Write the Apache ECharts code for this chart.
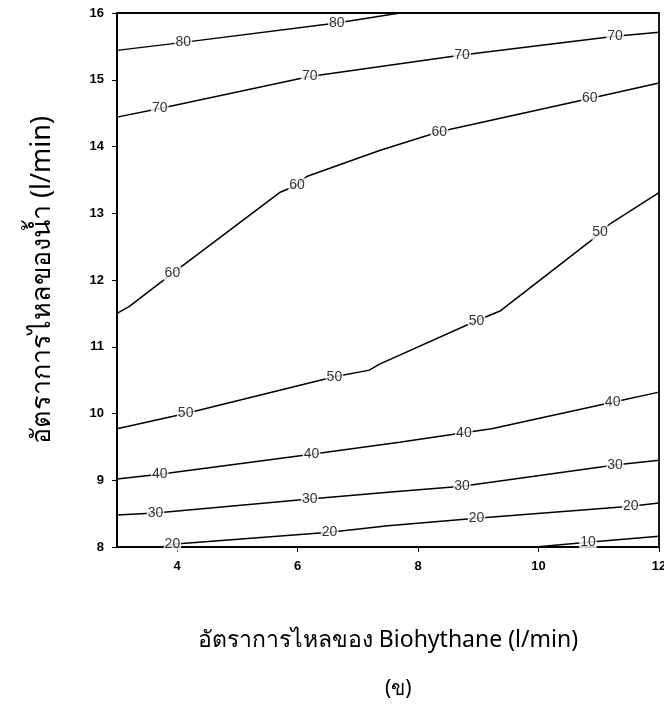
<!DOCTYPE html>
<html>
<head>
<meta charset="utf-8">
<script src="https://cdn.jsdelivr.net/npm/echarts@6/dist/echarts.min.js"></script>
<style>
  html, body { margin: 0; padding: 0; background: #fff; }
  #main { width: 664px; height: 712px; }
</style>
</head>
<body>
<div id="main"></div>
<script>
// contour lines, [biohythane flow, water flow]
const c80 = [[3, 15.44], [4.1, 15.56], [6.65, 15.85], [7.7, 16]];
const c70 = [[3, 14.44], [3.71, 14.57], [6.2, 15.05], [8.73, 15.37], [11.27, 15.65], [12, 15.71]];
const c60 = [[3, 11.5], [3.2, 11.6], [3.92, 12.1], [5.7, 13.31], [5.99, 13.42], [6.15, 13.55],
             [7.36, 13.94], [8.35, 14.22], [10.85, 14.72], [12, 14.95]];
const c50 = [[3, 9.77], [4.14, 10.0], [6.61, 10.55], [7.19, 10.65], [7.36, 10.74], [8.97, 11.39],
             [9.37, 11.54], [10.87, 12.59], [11.02, 12.71], [11.2, 12.85], [12, 13.31]];
const c40 = [[3, 9.02], [3.71, 9.09], [6.23, 9.39], [7.69, 9.57], [8.76, 9.71], [9.22, 9.77],
             [11.23, 10.17], [12, 10.32]];
const c30 = [[3, 8.48], [3.64, 8.51], [6.2, 8.72], [7.5, 8.82], [8.73, 8.91], [11.27, 9.23], [12, 9.3]];
const c20 = [[3.73, 8.0], [3.92, 8.04], [6.53, 8.22], [7.5, 8.32], [8.97, 8.43], [11.53, 8.61], [12, 8.66]];
const c10 = [[9.95, 8.0], [10.82, 8.07], [12, 8.16]];

// contour labels, [x, y, level]
const contourLabels = [
  [4.1, 15.56, 80], [6.65, 15.85, 80],
  [3.71, 14.57, 70], [6.2, 15.05, 70], [8.73, 15.37, 70], [11.27, 15.65, 70],
  [3.92, 12.1, 60], [5.99, 13.42, 60], [8.35, 14.22, 60], [10.85, 14.72, 60],
  [4.14, 10.0, 50], [6.61, 10.55, 50], [8.97, 11.39, 50], [11.02, 12.71, 50],
  [3.71, 9.09, 40], [6.23, 9.39, 40], [8.76, 9.71, 40], [11.23, 10.17, 40],
  [3.64, 8.51, 30], [6.2, 8.72, 30], [8.73, 8.91, 30], [11.27, 9.23, 30],
  [3.92, 8.04, 20], [6.53, 8.22, 20], [8.97, 8.43, 20], [11.53, 8.61, 20],
  [10.82, 8.07, 10]
];

const xTicks = [4, 6, 8, 10, 12];
const yTicks = [8, 9, 10, 11, 12, 13, 14, 15, 16];

const contours = [c80, c70, c60, c50, c40, c30, c20, c10];
const thaiFont = '"Noto Sans", "DejaVu Sans", sans-serif';

const lineSeries = contours.map(function (pts) {
  return {
    type: 'line',
    data: pts,
    symbol: 'none',
    smooth: false,
    silent: true,
    lineStyle: { color: '#000', width: 1.5 },
    z: 2
  };
});

const chart = echarts.init(document.getElementById('main'));
chart.setOption({
  animation: false,
  backgroundColor: '#fff',
  grid: {
    left: 117, right: 5, top: 13, bottom: 165,
    outerBoundsMode: 'none', containLabel: false,
    show: true, borderColor: '#000', borderWidth: 1.8
  },
  xAxis: {
    type: 'value', min: 3, max: 12,
    name: 'อัตราการไหลของ Biohythane (l/min)',
    nameLocation: 'middle', nameGap: 82,
    nameTextStyle: { fontFamily: thaiFont, fontSize: 23, color: '#000' },
    axisLine: { show: true, lineStyle: { color: '#000', width: 1.8 } },
    axisTick: { show: true, inside: false, length: 5, customValues: xTicks, lineStyle: { color: '#000' } },
    axisLabel: { customValues: xTicks, color: '#000', fontWeight: 'bold', fontSize: 13, fontFamily: 'Arial, Liberation Sans', margin: 13 },
    splitLine: { show: false }
  },
  yAxis: {
    type: 'value', min: 8, max: 16,
    name: 'อัตราการไหลของน้ำ (l/min)',
    nameLocation: 'middle', nameGap: 61, nameRotate: 90,
    nameTextStyle: { fontFamily: thaiFont, fontSize: 27, color: '#000' },
    axisLine: { show: true, lineStyle: { color: '#000', width: 1.8 } },
    axisTick: { show: true, inside: false, length: 5, customValues: yTicks, lineStyle: { color: '#000' } },
    axisLabel: { customValues: yTicks, color: '#000', fontWeight: 'bold', fontSize: 13, fontFamily: 'Arial, Liberation Sans', margin: 13 },
    splitLine: { show: false }
  },
  title: {
    text: '(ข)', left: 380, top: 674,
    textStyle: { fontFamily: thaiFont, fontSize: 21, fontWeight: 'normal', color: '#000' }
  },
  series: lineSeries.concat([{
    type: 'scatter',
    data: contourLabels,
    symbolSize: 0,
    silent: true,
    z: 5,
    label: {
      show: true, position: 'inside',
      formatter: function (p) { return String(p.value[2]); },
      color: '#000', fontSize: 14, fontFamily: 'Arial, Liberation Sans',
      backgroundColor: '#fff', padding: [0, 1]
    }
  }])
});
</script>
</body>
</html>
